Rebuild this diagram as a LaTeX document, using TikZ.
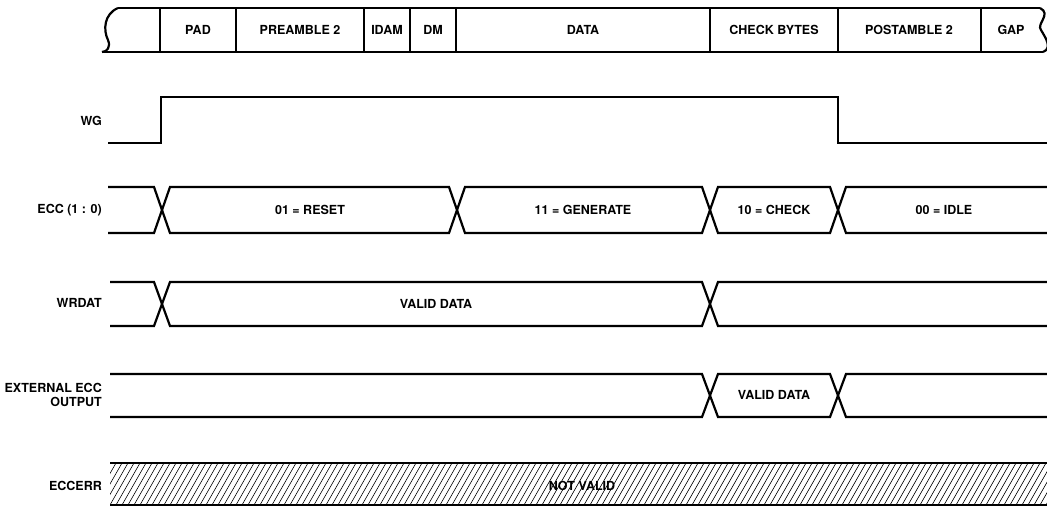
\documentclass[tikz,border=0pt]{standalone}
\usepackage{fontspec}
\setmainfont{TeX Gyre Heros}
\begin{document}
\begin{tikzpicture}[x=1pt,y=-1pt,line join=miter,
  sig/.style={line width=2.2pt},
  lbl/.style={font=\fontsize{12.5}{13.5}\selectfont\bfseries,inner sep=0pt},
  rlbl/.style={lbl,anchor=east,align=right},
  hatch/.style={line width=0.6pt}]
\useasboundingbox (0,0) rectangle (1047,507);

% ---------- top field bar ----------
\draw[sig] (118,8) .. controls (104,14) and (103,30) .. (108,40) .. controls (111,47) and (107,52) .. (102,52);
\draw[sig] (1040,8) .. controls (1052,14) and (1036,24) .. (1041,30) .. controls (1045,37) and (1053,48) .. (1043,52);
\draw[sig] (118,8) -- (1040,8);
\draw[sig] (102,52) -- (1043,52);
\foreach \x in {160,236,364,410,456,710,838,981}
  \draw[sig] (\x,8) -- (\x,52);
\node[lbl] (pad)  at (198,30) {PAD};
\node[lbl] (pre)  at (300,30) {PREAMBLE 2};
\node[lbl] (idam) at (387,30) {IDAM};
\node[lbl] (dm)   at (433,30) {DM};
\node[lbl] (data) at (583,30) {DATA};
\node[lbl] (chk)  at (774,30) {CHECK BYTES};
\node[lbl] (post) at (909,30) {POSTAMBLE 2};
\node[lbl] (gap)  at (1011,30) {GAP};

% ---------- WG ----------
\node[rlbl] (wgl) at (102,121) {WG};
\draw[sig] (108,143) -- (161,143) -- (161,97) -- (838,97) -- (838,143) -- (1047,143);

% ---------- ECC (1:0) ----------
\node[rlbl] (eccl) at (102,210) {ECC (1 : 0)};
\draw[sig] (108,187) -- (154,187) -- (170,233) -- (449,233) -- (465,187) -- (702,187) -- (718,233) -- (830,233) -- (846,187) -- (1047,187);
\draw[sig] (108,233) -- (154,233) -- (170,187) -- (449,187) -- (465,233) -- (702,233) -- (718,187) -- (830,187) -- (846,233) -- (1047,233);
\node[lbl] (rst) at (310,210) {01 = RESET};
\node[lbl] (gen) at (583,210) {11 = GENERATE};
\node[lbl] (chkv) at (774,210) {10 = CHECK};
\node[lbl] (idle) at (944,210) {00 = IDLE};

% ---------- WRDAT ----------
\node[rlbl] (wrl) at (102,303) {WRDAT};
\draw[sig] (110,282) -- (154,282) -- (170,326) -- (702,326) -- (718,282) -- (1047,282);
\draw[sig] (110,326) -- (154,326) -- (170,282) -- (702,282) -- (718,326) -- (1047,326);
\node[lbl] (wrv) at (436,304) {VALID DATA};

% ---------- EXTERNAL ECC OUTPUT ----------
\node[rlbl] (extl) at (102,395) {EXTERNAL ECC\\OUTPUT};
\draw[sig] (110,374) -- (702,374) -- (718,417) -- (830,417) -- (846,374) -- (1047,374);
\draw[sig] (110,417) -- (702,417) -- (718,374) -- (830,374) -- (846,417) -- (1047,417);
\node[lbl] (extv) at (774,395) {VALID DATA};

% ---------- ECCERR ----------
\node[rlbl] (errl) at (102,486) {ECCERR};
\begin{scope}
  \clip (110,463) rectangle (1047,505);
  \foreach \i in {0,...,170}
    \draw[hatch] ({80+6*\i},505) -- ({104+6*\i},463);
\end{scope}
\draw[line width=2.6pt] (110,463) -- (1047,463);
\draw[line width=1.1pt] (110,505) -- (1047,505);
\node[lbl] (nv) at (582,486) {NOT VALID};
\end{tikzpicture}
\end{document}
